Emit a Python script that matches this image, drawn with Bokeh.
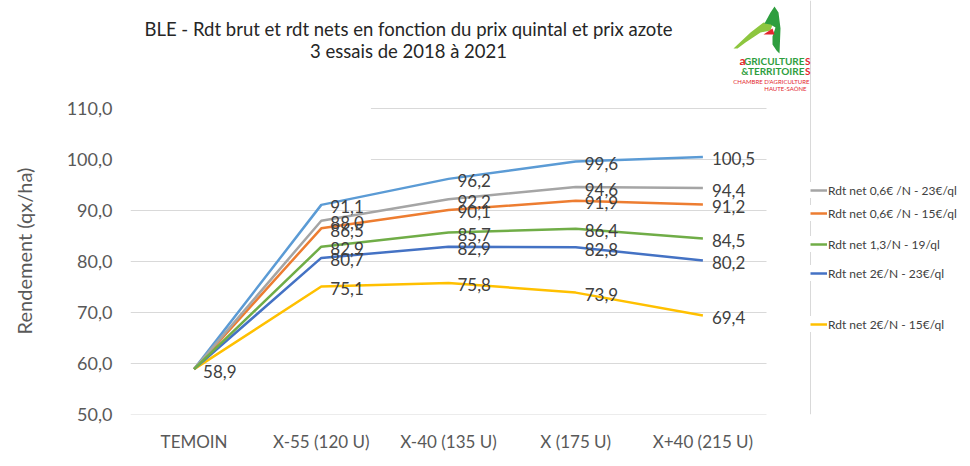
from bokeh.plotting import figure
from bokeh.models import (Legend, LegendItem, Label, Span, PolyAnnotation,
                          CustomJSTickFormatter, FixedTicker, ColumnDataSource, Range1d)
from bokeh.core.properties import value
from bokeh.embed import file_html
from bokeh.resources import INLINE

# ---------------- data ----------------
categories = ["TEMOIN", "X-55 (120 U)", "X-40 (135 U)", "X (175 U)", "X+40 (215 U)"]
rdt_brut = [58.9, 91.1, 96.2, 99.6, 100.5]
net_06_23 = [58.9, 88.0, 92.2, 94.6, 94.4]
net_06_15 = [58.9, 86.5, 90.1, 91.9, 91.2]
net_13_19 = [58.9, 82.9, 85.7, 86.4, 84.5]
net_2_23 = [58.9, 80.7, 82.9, 82.8, 80.2]
net_2_15 = [58.9, 75.1, 75.8, 73.9, 69.4]
y_ticks = [50, 60, 70, 80, 90, 100, 110]

series = [
    ("Rdt brut", rdt_brut, "#5B9BD5"),
    ("Rdt net 2€/N - 15€/ql", net_2_15, "#FFC000"),
    ("Rdt net 2€/N - 23€/ql", net_2_23, "#4472C4"),
    ("Rdt net 0,6€ /N - 15€/ql", net_06_15, "#ED7D31"),
    ("Rdt net 0,6€ /N - 23€/ql", net_06_23, "#A5A5A5"),
    ("Rdt net 1,3/N - 19/ql", net_13_19, "#70AD47"),
]
legend_order = ["Rdt net 0,6€ /N - 23€/ql", "Rdt net 0,6€ /N - 15€/ql",
                "Rdt net 1,3/N - 19/ql", "Rdt net 2€/N - 23€/ql", "Rdt net 2€/N - 15€/ql"]
legend_page_y = [190, 213, 244, 273, 324]

FONT = "Lato"
W, H = 968, 464
ML, MB = 130, 50
PLOT_W = 636.0            # pixel width of the 5 category slots
FRAME_W = W - ML
FRAME_H = H - MB
Y_LO, Y_HI = 50, 110
PLOT_H = 306.0            # pixel height from 50 to 110
x_end = -0.5 + len(categories) * FRAME_W / PLOT_W
y_end = Y_LO + (Y_HI - Y_LO) * FRAME_H / PLOT_H
SLOT = PLOT_W / len(categories)

p = figure(width=W, height=H, title=None,
           x_range=Range1d(-0.5, x_end), y_range=Range1d(Y_LO, y_end),
           output_backend="svg", toolbar_location=None,
           min_border_left=ML, min_border_right=0, min_border_top=0, min_border_bottom=MB)
p.outline_line_color = None
p.xgrid.grid_line_color = None
p.ygrid.grid_line_color = None

xs = list(range(len(categories)))
p.xaxis.ticker = FixedTicker(ticks=xs)
p.xaxis.major_label_overrides = {i: c for i, c in enumerate(categories)}
p.yaxis.ticker = FixedTicker(ticks=y_ticks)
p.yaxis.formatter = CustomJSTickFormatter(code="return tick.toFixed(1).replace('.', ',');")
for ax in (p.xaxis[0], p.yaxis[0]):
    ax.axis_line_color = None
    ax.major_tick_line_color = None
    ax.minor_tick_line_color = None
    ax.major_tick_out = 0
    ax.major_tick_in = 0
    ax.minor_tick_out = 0
    ax.minor_tick_in = 0
    ax.major_label_text_font = FONT
    ax.major_label_text_color = "#595959"
p.yaxis.major_label_text_font_size = "18px"
p.yaxis.major_label_standoff = 18
# trailing no-break spaces push the rotated title down to the middle of the 50-110 span
p.yaxis.axis_label = "Rendement (qx/ha)" + "\u00a0" * 17
p.yaxis.axis_label_text_font = FONT
p.yaxis.axis_label_text_font_style = "normal"
p.yaxis.axis_label_text_font_size = "20px"
p.yaxis.axis_label_text_color = "#595959"
p.yaxis.axis_label_standoff = 28
p.xaxis.major_label_text_font_size = "17px"
p.xaxis.major_label_standoff = 16

# horizontal grid lines, limited to the plot area (upper ones partly masked as in reference)
mask_x = 1.39
g_x0 = [-0.5 if t < 100 else mask_x for t in y_ticks]
g_x1 = [len(categories) - 0.5] * len(y_ticks)
p.segment(x0=g_x0, x1=g_x1, y0=y_ticks, y1=y_ticks, line_color="#D9D9D9", line_width=1,
          level="underlay")

# chart-area right border
p.add_layout(Span(location=len(categories) - 0.5 + 44 / SLOT,
                  dimension="height", line_color="#D9D9D9", line_width=1, level="underlay"))

renderers = {}
for name, vals, col in series:
    r = p.line(xs, vals, line_color=col, line_width=2.5)
    renderers[name] = r

# data labels (skip duplicates at same point)
seen = set()
lx, ly, lt = [], [], []
for name, vals, col in series:
    for xi, v in zip(xs, vals):
        if (xi, v) in seen:
            continue
        seen.add((xi, v))
        lx.append(xi); ly.append(v); lt.append(f"{v:.1f}".replace(".", ","))
src = ColumnDataSource(dict(x=lx, y=ly, t=lt))
p.text(x="x", y="y", text="t", source=src, x_offset=9, y_offset=2,
       text_font=value(FONT), text_font_size="17px", text_color="#404040",
       text_baseline="middle", text_align="left")

# page -> frame-relative screen coords
FX0, FY0 = ML, FRAME_H
def sx(px): return px - FX0
def sy(py): return FY0 - py

# legends, one per item
for name, py in zip(legend_order, legend_page_y):
    leg = Legend(items=[LegendItem(label=name, renderers=[renderers[name]])],
                 location=(sx(810), sy(py) - 8), padding=0, margin=0, spacing=0,
                 glyph_width=17, glyph_height=16, label_height=16, label_standoff=1,
                 border_line_color=None, background_fill_color="white", background_fill_alpha=1,
                 label_text_font=FONT, label_text_font_size="12px", label_text_color="#404040")
    p.add_layout(leg)

# titles
for txt, py in [("BLE - Rdt brut et rdt nets en fonction du prix quintal et prix azote", 28),
                ("3 essais de 2018 à 2021", 50)]:
    p.add_layout(Label(x=sx(408), y=sy(py), x_units="screen", y_units="screen", text=txt,
                       text_align="center", text_baseline="middle", text_font=FONT,
                       text_font_size="18.5px", text_color="#262626"))

# logo approximation
RED, GREEN, LGREEN = "#E3262E", "#2E9E3E", "#8DC63F"
def poly(px, py, col):
    p.add_layout(PolyAnnotation(xs=[sx(v) for v in px], ys=[sy(v) for v in py],
                                xs_units="screen", ys_units="screen",
                                fill_color=col, fill_alpha=1, line_color=None))
poly([733, 750, 763, 772, 770, 760, 745, 737], [48, 32, 22, 24, 30, 32, 42, 48], LGREEN)
poly([774, 778, 780, 779, 776, 772, 772, 775, 770, 764, 770],
     [6, 12, 28, 53, 50, 44, 36, 27, 24, 23, 12], GREEN)
poly([763, 772, 774], [34, 28, 34], RED)

def logo_text(txt, px, py, size, col, style, align="left"):
    p.add_layout(Label(x=sx(px), y=sy(py), x_units="screen", y_units="screen", text=txt,
                       text_align=align, text_baseline="middle", text_font=FONT,
                       text_font_size=size, text_color=col, text_font_style=style))
logo_text("S", 810, 60, "10px", RED, "bold", "right")
logo_text("GRICULTURE", 804, 60, "10px", GREEN, "bold", "right")
logo_text("a", 745, 60, "12px", RED, "bold", "right")
logo_text("S", 810, 70, "10px", RED, "bold", "right")
logo_text("&TERRITOIRE", 804, 70, "10px", GREEN, "bold", "right")
logo_text("CHAMBRE D'AGRICULTURE", 809, 81, "6px", RED, "normal", "right")
logo_text("HAUTE-SAÔNE", 806, 88, "6px", RED, "normal", "right")

open("out.html", "w").write(file_html(p, INLINE))
